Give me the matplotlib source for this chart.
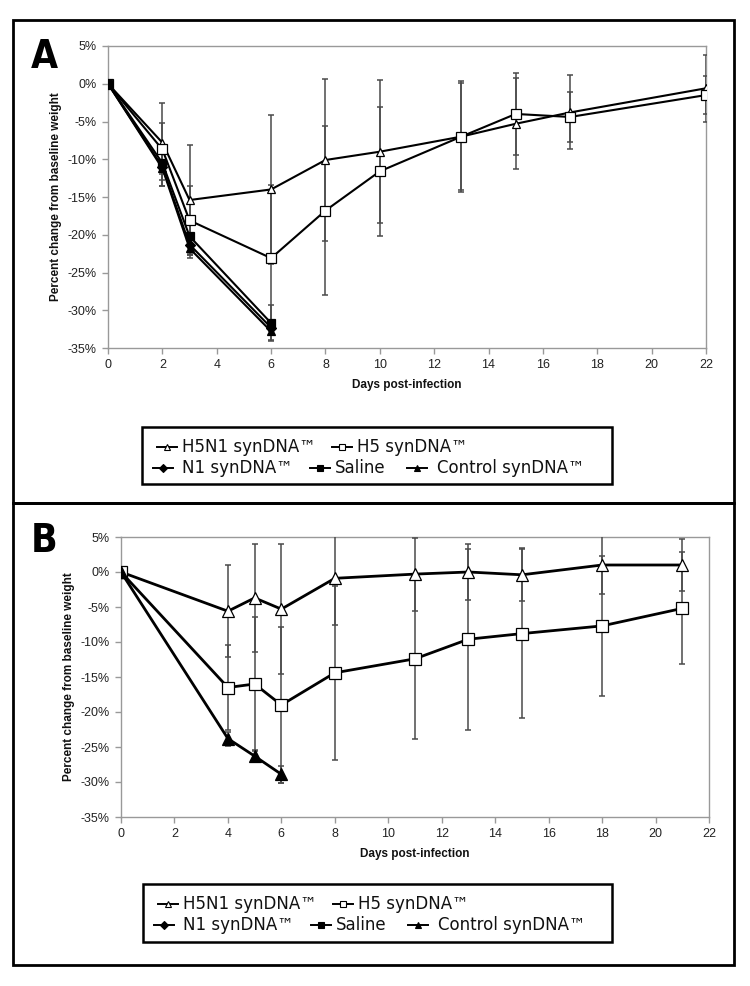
import matplotlib
matplotlib.use("Agg")
import matplotlib.pyplot as plt
from matplotlib.lines import Line2D
from matplotlib.patches import Rectangle
import numpy as np

W, H = 750, 986

# ---------------- Data: Panel A ----------------
a_days = [0, 2, 3, 6, 8, 10, 13, 15, 17, 22]
a_h5n1 = [0, -7.8, -15.4, -14.0, -10.1, -9.0, -7.0, -5.3, -3.8, -0.6]
a_h5n1_err = [0, 2.6, 7.3, 9.9, 10.7, 9.5, 7.1, 6.0, 4.9, 4.4]
a_h5 = [0, -8.7, -18.1, -23.1, -16.8, -11.6, -7.0, -4.0, -4.4, -1.5]
a_h5_err_hi = [0, 6.2, 4.6, 9.7, 11.2, 8.5, 7.4, 5.4, 3.3, 2.5]
a_h5_err_lo = [0, 4.9, 4.6, 9.7, 11.2, 8.5, 7.4, 5.4, 3.3, 2.5]
a_short_days = [0, 2, 3, 6]
a_n1 = [0, -11.0, -21.3, -32.3]
a_n1_err = [0, 1.8, 1.2, 1.0]
a_saline = [0, -10.5, -20.2, -31.7]
a_saline_err = [0, 1.5, 1.5, 2.4]
a_control = [0, -11.2, -21.8, -32.8]
a_control_err = [0, 2.3, 1.3, 1.2]

# ---------------- Data: Panel B ----------------
b_days = [0, 4, 5, 6, 8, 11, 13, 15, 18, 21]
b_h5n1 = [0, -5.6, -3.7, -5.3, -0.9, -0.3, 0.0, -0.4, 1.0, 1.0]
b_h5n1_err = [0, 6.6, 7.7, 9.3, 6.6, 5.2, 4.0, 3.8, 4.2, 3.7]
b_h5 = [0, -16.5, -16.0, -19.0, -14.4, -12.4, -9.6, -8.8, -7.7, -5.2]
b_h5_err = [0, 6.1, 9.6, 11.1, 12.4, 11.5, 12.9, 12.1, 10.0, 8.0]
b_short_days = [0, 4, 5, 6]
b_control = [0, -23.8, -26.3, -28.9]
b_control_err = [0, 1.0, 0.9, 1.2]

y_ticks = [5, 0, -5, -10, -15, -20, -25, -30, -35]
y_ticklabels = ["5%", "0%", "-5%", "-10%", "-15%", "-20%", "-25%", "-30%", "-35%"]
x_ticks = list(range(0, 23, 2))

legend_rows = [
    [("H5N1 synDNA\u2122", "^", "white"), ("H5 synDNA\u2122", "s", "white")],
    [("N1 synDNA\u2122", "D", "black"), ("Saline", "s", "black"), ("Control synDNA\u2122", "^", "black")],
]

# ---------------- Figure ----------------
fig = plt.figure(figsize=(W / 100, H / 100), dpi=100)
fig.patch.set_facecolor("white")

def fx(x):
    return x / W

def fy(y):
    return 1 - y / H

def rect_axes(l, t, r, b):
    return fig.add_axes([fx(l), fy(b), fx(r) - fx(l), fy(t) - fy(b)])

TICKFONT = dict(family=["Liberation Sans", "DejaVu Sans"], size=9, color="#222222")
LABELFONT = dict(family=["Liberation Sans", "DejaVu Sans"], size=8.5, weight="bold", color="#111111")
ECOL = "#4a4a4a"

def style_axes(ax):
    ax.set_xlim(0, 22)
    ax.set_ylim(-35, 5)
    ax.set_xticks(x_ticks)
    ax.set_xticklabels([str(t) for t in x_ticks], **TICKFONT)
    ax.set_yticks(y_ticks)
    ax.set_yticklabels(y_ticklabels, **TICKFONT)
    for s in ax.spines.values():
        s.set_color("#999999")
        s.set_linewidth(1.0)
    ax.tick_params(axis="both", direction="out", length=4, width=1, color="#999999", pad=4)
    ax.set_xlabel("Days post-infection", labelpad=6, **LABELFONT)
    ax.set_ylabel("Percent change from baseline weight", labelpad=4, **LABELFONT)

def series(ax, x, y, err, marker, face, ms, lw, z):
    ax.errorbar(x, y, yerr=err, fmt="none", ecolor=ECOL, elinewidth=1.1,
                capsize=2.5, capthick=1.1, zorder=z)
    ax.plot(x, y, color="black", lw=lw, marker=marker, markersize=ms,
            markerfacecolor=face, markeredgecolor="black", markeredgewidth=0.9,
            zorder=z + 1)

# Panel A axes
axA = rect_axes(108, 46, 706, 348)
style_axes(axA)
series(axA, a_days, a_h5n1, a_h5n1_err, "^", "white", 6, 1.5, 3)
series(axA, a_days, a_h5, [a_h5_err_lo, a_h5_err_hi], "s", "white", 6.5, 1.5, 3)
series(axA, a_short_days, a_n1, a_n1_err, "D", "black", 5, 1.5, 3)
series(axA, a_short_days, a_saline, a_saline_err, "s", "black", 6, 1.5, 3)
series(axA, a_short_days, a_control, a_control_err, "^", "black", 6, 1.5, 3)

# Panel B axes
axB = rect_axes(121, 537, 709, 817)
style_axes(axB)
series(axB, b_days, b_h5n1, b_h5n1_err, "^", "white", 8, 2.0, 3)
series(axB, b_days, b_h5, b_h5_err, "s", "white", 9, 2.0, 3)
series(axB, b_short_days, b_control, b_control_err, "^", "black", 8, 2.0, 3)

# Panel letters
LETTERFONT = dict(family=["DejaVu Sans"], stretch="condensed",
                  size=28, weight="bold", color="black")
fig.text(fx(31), fy(68), "A", ha="left", va="baseline", **LETTERFONT)
fig.text(fx(31), fy(552), "B", ha="left", va="baseline", **LETTERFONT)

# Outer frames
for (l, t, r, b) in [(13, 20, 734, 503), (13, 503, 734, 965)]:
    fig.add_artist(Rectangle((fx(l), fy(b)), fx(r) - fx(l), fy(t) - fy(b),
                             transform=fig.transFigure, fill=False,
                             edgecolor="black", linewidth=2.0))

# Legends (Excel-style flow layout)
handle_x = [[157, 332], [153, 310, 407]]
text_x = [[182, 357], [182, 335, 437]]
row_dy = [20, 41]

def draw_legend(left, top, right, bottom):
    fig.add_artist(Rectangle((fx(left), fy(bottom)), fx(right) - fx(left), fy(top) - fy(bottom),
                             transform=fig.transFigure, fill=False,
                             edgecolor="black", linewidth=1.8))
    for ri, row in enumerate(legend_rows):
        yy = top + row_dy[ri]
        for ci, (label, marker, face) in enumerate(row):
            hx = handle_x[ri][ci] + (left - 142)
            tx = text_x[ri][ci] + (left - 142)
            fig.add_artist(Line2D([fx(hx), fx(hx + 20)], [fy(yy), fy(yy)],
                                  transform=fig.transFigure, color="black", lw=1.4))
            fig.add_artist(Line2D([fx(hx + 10)], [fy(yy)], transform=fig.transFigure,
                                  marker=marker, markersize=5 if marker != "D" else 4,
                                  markerfacecolor=face, markeredgecolor="black",
                                  markeredgewidth=0.8, linestyle="none"))
            fig.text(fx(tx), fy(yy), label, ha="left", va="center",
                     family=["DejaVu Sans"], size=12, color="#111111")

draw_legend(142, 427, 612, 484)
draw_legend(143, 884, 612, 942)

fig.savefig("out.png", dpi=100, facecolor="white")
